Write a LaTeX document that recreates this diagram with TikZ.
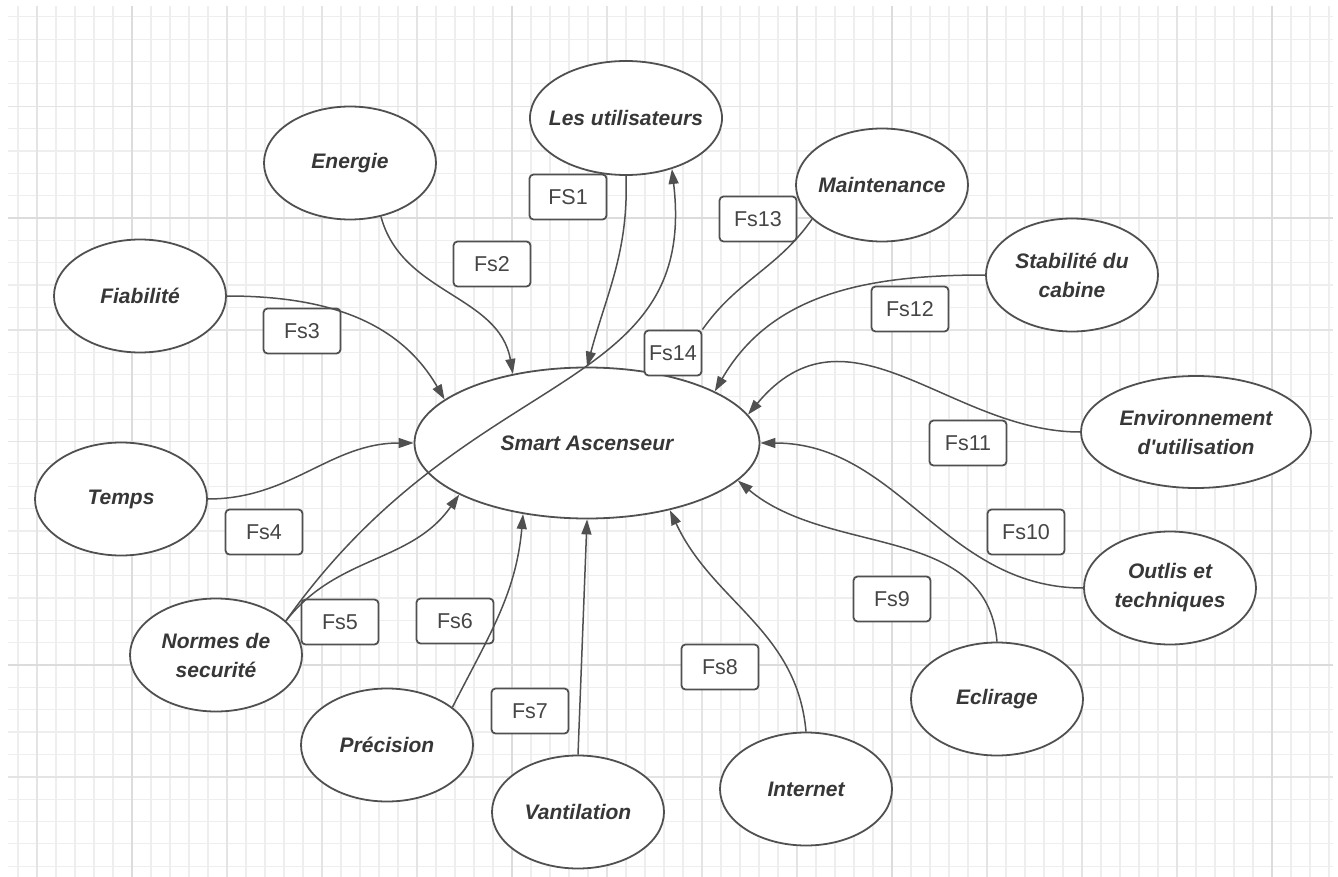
\documentclass[tikz,border=0pt]{standalone}
\usepackage{fontspec}
\setmainfont{Liberation Sans}
\usepackage{tikz}
\usetikzlibrary{shapes.geometric, arrows.meta, positioning}
\definecolor{linegray}{RGB}{80, 80, 80}
\definecolor{txtgray}{RGB}{55, 55, 55}
\definecolor{boxtxt}{RGB}{70, 70, 70}
\definecolor{gridlo}{RGB}{238, 238, 238}
\definecolor{gridmid}{RGB}{228, 228, 228}
\definecolor{gridhi}{RGB}{220, 220, 220}
\tikzset{
  func/.style={ellipse, draw=linegray, line width=1.8pt, fill=white, inner sep=0pt, minimum width=172pt, minimum height=113pt},
  functxt/.style={font=\fontsize{21}{29}\selectfont\bfseries\itshape, text=txtgray, align=center, inner sep=0pt},
  fsbox/.style={rectangle, draw=linegray, line width=1.8pt, rounded corners=4pt, fill=white, minimum width=77pt, minimum height=45pt, inner sep=0pt, font=\fontsize{21.5}{24}\selectfont, text=boxtxt},
  farrow/.style={-{Triangle[length=15pt, width=10pt]}, line width=1.5pt, draw=linegray},
  fline/.style={line width=1.5pt, draw=linegray},
  gridminor/.style={draw=gridlo, line width=1.2pt},
  gridmed/.style={draw=gridmid, line width=1.6pt},
  gridmaj/.style={draw=gridhi, line width=2.6pt},
}

\begin{document}
\begin{tikzpicture}[x=1pt, y=1pt]
  \useasboundingbox (0,0) rectangle (1338,-877);
  % grid paper
  \begin{scope}
    \clip (8,-6) rectangle (1333,-877);
    \foreach \i in {0,...,69} \draw[gridminor] ({18+19*\i},-6) -- ({18+19*\i},-877);
    \foreach \j in {0,...,38} \draw[gridminor] (8,{-16.85-22.35*\j}) -- (1333,{-16.85-22.35*\j});
    \foreach \i in {0,...,13} \draw[gridmed] ({37+95*\i},-6) -- ({37+95*\i},-877);
    \foreach \j in {0,...,6} \draw[gridmed] (8,{-106.4-111.75*\j}) -- (1333,{-106.4-111.75*\j});
    \foreach \i in {0,...,3} \draw[gridmaj] ({132+380*\i},-6) -- ({132+380*\i},-877);
    \foreach \j in {0,1} \draw[gridmaj] (8,{-218.15-447*\j}) -- (1333,{-218.15-447*\j});
  \end{scope}

  % the system and its surroundings
  \node[func, minimum width=345pt, minimum height=151pt] (smart) at (587,-443) {};
  \node[functxt] (smart-t) at (smart) {Smart Ascenseur};
  \node[func, minimum width=192pt, minimum height=114pt] (util) at (626,-118) {};
  \node[functxt] (util-t) at (util) {Les utilisateurs};
  \node[func] (energie) at (350,-163) {};
  \node[functxt] (energie-t) at (energie) {Energie};
  \node[func] (fiab) at (140,-296) {};
  \node[functxt] (fiab-t) at (fiab) {Fiabilité};
  \node[func] (temps) at (121,-499) {};
  \node[functxt] (temps-t) at (temps) {Temps};
  \node[func] (normes) at (216,-655) {};
  \node[functxt] (normes-t) at (normes) {Normes de\\securité};
  \node[func] (precision) at (387,-745) {};
  \node[functxt] (precision-t) at (precision) {Précision};
  \node[func] (vent) at (578,-812) {};
  \node[functxt] (vent-t) at (vent) {Vantilation};
  \node[func] (internet) at (806,-789) {};
  \node[functxt] (internet-t) at (internet) {Internet};
  \node[func] (eclair) at (997,-699) {};
  \node[functxt] (eclair-t) at (eclair) {Eclirage};
  \node[func] (outils) at (1170,-588) {};
  \node[functxt] (outils-t) at (outils) {Outlis et\\techniques};
  \node[func, minimum width=230pt, minimum height=112pt] (env) at (1196,-432) {};
  \node[functxt] (env-t) at (env) {Environnement\\d\textquotesingle utilisation};
  \node[func] (stab) at (1072,-275) {};
  \node[functxt] (stab-t) at (stab) {Stabilité du\\cabine};
  \node[func] (maint) at (882,-185) {};
  \node[functxt] (maint-t) at (maint) {Maintenance};

  % function labels
  \node[fsbox] (fs1) at (568,-197) {FS1};
  \node[fsbox] (fs2) at (492,-264) {Fs2};
  \node[fsbox] (fs3) at (302,-331) {Fs3};
  \node[fsbox] (fs4) at (264,-532) {Fs4};
  \node[fsbox] (fs5) at (340,-622) {Fs5};
  \node[fsbox] (fs6) at (455,-621) {Fs6};
  \node[fsbox] (fs7) at (530,-711) {Fs7};
  \node[fsbox] (fs8) at (720,-667) {Fs8};
  \node[fsbox] (fs9) at (892,-599) {Fs9};
  \node[fsbox] (fs10) at (1026,-532) {Fs10};
  \node[fsbox] (fs11) at (968,-443) {Fs11};
  \node[fsbox] (fs12) at (910,-309) {Fs12};
  \node[fsbox] (fs13) at (758,-219) {Fs13};
  \node[fsbox, minimum width=57pt] (fs14) at (673,-353) {Fs14};

  % links
  \draw[farrow] (energie.300) to[out=-75, in=100] (smart.137);
  \draw[farrow] (util.270) to[out=-88, in=75] (smart.90);
  \draw[farrow] (normes.26) .. controls +(183,259) and +(27,-229) .. (util.312);
  \draw[farrow] (fiab.0) to[out=0, in=120] (smart.163);
  \draw[farrow] (temps.0) to[out=0, in=180] (smart.180);
  \draw[farrow] (normes.26) to[out=52, in=235] (smart.202);
  \draw[farrow] (precision.30) to[out=63, in=-95] (smart.228);
  \draw[farrow] (vent.90) -- (smart.270);
  \draw[farrow] (internet.90) to[out=95, in=-65] (smart.321);
  \draw[farrow] (eclair.90) to[out=95, in=-40] (smart.346);
  \draw[farrow] (outils.180) to[out=180, in=0] (smart.0);
  \draw[farrow] (env.180) .. controls +(-130,0) and +(100,120) .. (smart.10);
  \draw[farrow] (stab.180) to[out=180, in=60] (smart.22);
  \draw[fline] (maint.206) to[out=-125, in=55] (fs14.north east);
\end{tikzpicture}
\end{document}
